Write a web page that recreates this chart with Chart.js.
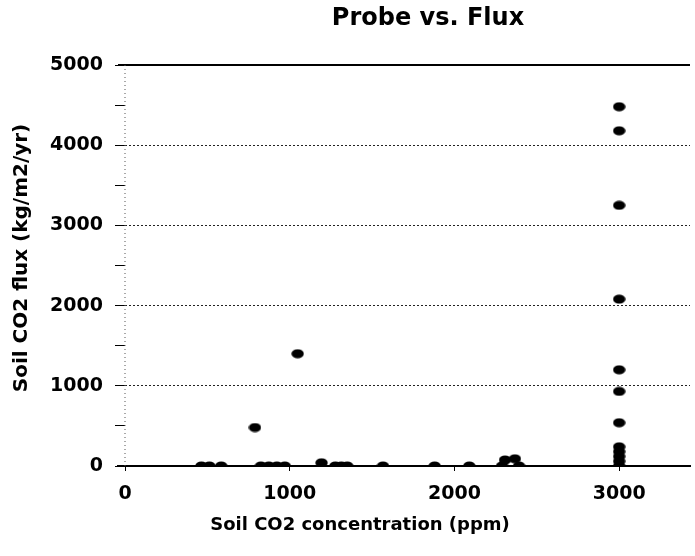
<!DOCTYPE html>
<html><head><meta charset="utf-8">
<script src="https://cdn.jsdelivr.net/npm/chart.js@4.4.1/dist/chart.umd.min.js"></script>
<style>html,body{margin:0;padding:0;background:#fff}canvas{display:block}</style>
</head><body>
<canvas id="c" width="695" height="556"></canvas>
<script>
const chartTitle = 'Probe vs. Flux';
const xAxisTitle = 'Soil CO2 concentration (ppm)';
const yAxisTitle = 'Soil CO2 flux (kg/m2/yr)';
const xTickValues = [0, 1000, 2000, 3000];
const yTickValues = [0, 500, 1000, 1500, 2000, 2500, 3000, 3500, 4000, 4500, 5000];
const probeCO2 = [464, 512, 584, 789, 825, 873, 922, 970, 1048, 1193, 1277, 1313, 1349, 1566, 1880, 2090, 2289, 2307, 2367, 2392,
                  3000, 3000, 3000, 3000, 3000, 3000, 3000, 3000, 3000, 3000, 3000, 3000];
const fluxCO2  = [0, 0, 0, 480, 0, 0, 0, 0, 1400, 40, 0, 0, 0, 0, 0, 0, 0, 75, 90, 0,
                  4480, 4180, 3250, 2080, 1200, 930, 540, 240, 180, 120, 60, 0];

const FONT = '"DejaVu Sans", "Liberation Sans", Arial, sans-serif';

const dot = document.createElement('canvas');
dot.width = 13; dot.height = 10;
const g = dot.getContext('2d');
g.fillStyle = '#000';
g.beginPath(); g.ellipse(6.5, 5, 6.2, 4.6, 0, 0, Math.PI * 2); g.fill();

const decor = {
  id: 'decor',
  beforeDatasetsDraw(chart) {
    const {ctx, chartArea: a, scales: {x, y}} = chart;
    ctx.save();
    ctx.strokeStyle = '#000'; ctx.lineWidth = 2;
    const yt = y.getPixelForValue(5000);
    ctx.beginPath(); ctx.moveTo(a.left - 7, yt); ctx.lineTo(a.right, yt); ctx.stroke();
    const yb = y.getPixelForValue(0);
    ctx.beginPath(); ctx.moveTo(a.left - 8, yb); ctx.lineTo(a.left, yb); ctx.stroke();
    ctx.lineWidth = 1; ctx.strokeStyle = '#555'; ctx.setLineDash([1, 3]);
    const x0 = x.getPixelForValue(0);
    ctx.beginPath(); ctx.moveTo(x0, a.top); ctx.lineTo(x0, a.bottom); ctx.stroke();
    ctx.restore();
  },
  afterDraw(chart) {
    const {ctx} = chart;
    ctx.save();
    ctx.fillStyle = '#000';
    ctx.textAlign = 'center'; ctx.textBaseline = 'middle';
    ctx.font = 'bold 24px ' + FONT;
    ctx.fillText(chartTitle, 428, 19);
    ctx.font = 'bold 18px ' + FONT;
    ctx.fillText(xAxisTitle, 360, 525);
    ctx.translate(22, 258); ctx.rotate(-Math.PI / 2);
    ctx.font = 'bold 20px ' + FONT;
    ctx.fillText(yAxisTitle, 0, 0);
    ctx.restore();
  }
};

new Chart(document.getElementById('c'), {
  type: 'scatter',
  data: {
    datasets: [{
      data: probeCO2.map((v, i) => ({x: v, y: fluxCO2[i]})),
      pointStyle: dot,
      backgroundColor: '#000',
      borderColor: '#000'
    }]
  },
  options: {
    responsive: false,
    animation: false,
    devicePixelRatio: 1,
    layout: {padding: {top: 65, left: 0, right: 0, bottom: 0}},
    plugins: {legend: {display: false}, tooltip: {enabled: false}, title: {display: false}},
    scales: {
      x: {
        type: 'linear', min: 0, max: 3430,
        afterBuildTicks: s => { s.ticks = xTickValues.map(v => ({value: v})); },
        afterFit: s => { s.height = 90; },
        border: {display: true, color: '#000', width: 2},
        grid: {color: 'rgba(0,0,0,0)', tickColor: '#000', tickLength: 5, drawOnChartArea: false},
        ticks: {color: '#000', font: {family: FONT, size: 19, weight: 'bold'}, padding: 12, maxRotation: 0,
                callback: v => String(v)}
      },
      y: {
        type: 'linear', min: 0, max: 5000,
        afterBuildTicks: s => { s.ticks = yTickValues.map(v => ({value: v})); },
        afterFit: s => { s.width = 125; },
        border: {display: false, dash: [2, 2]},
        grid: {
          color: c => (c.tick && c.tick.value % 1000 === 0 && c.tick.value > 0 && c.tick.value < 5000) ? '#222' : 'rgba(0,0,0,0)',
          tickColor: '#000',
          tickLength: 10,
          lineWidth: 1
        },
        ticks: {
          color: '#000', padding: 12,
          font: {family: FONT, size: 19, weight: 'bold'},
          callback: v => (v % 1000 === 0 ? String(v) : '')
        }
      }
    }
  },
  plugins: [decor]
});
</script>
</body></html>
